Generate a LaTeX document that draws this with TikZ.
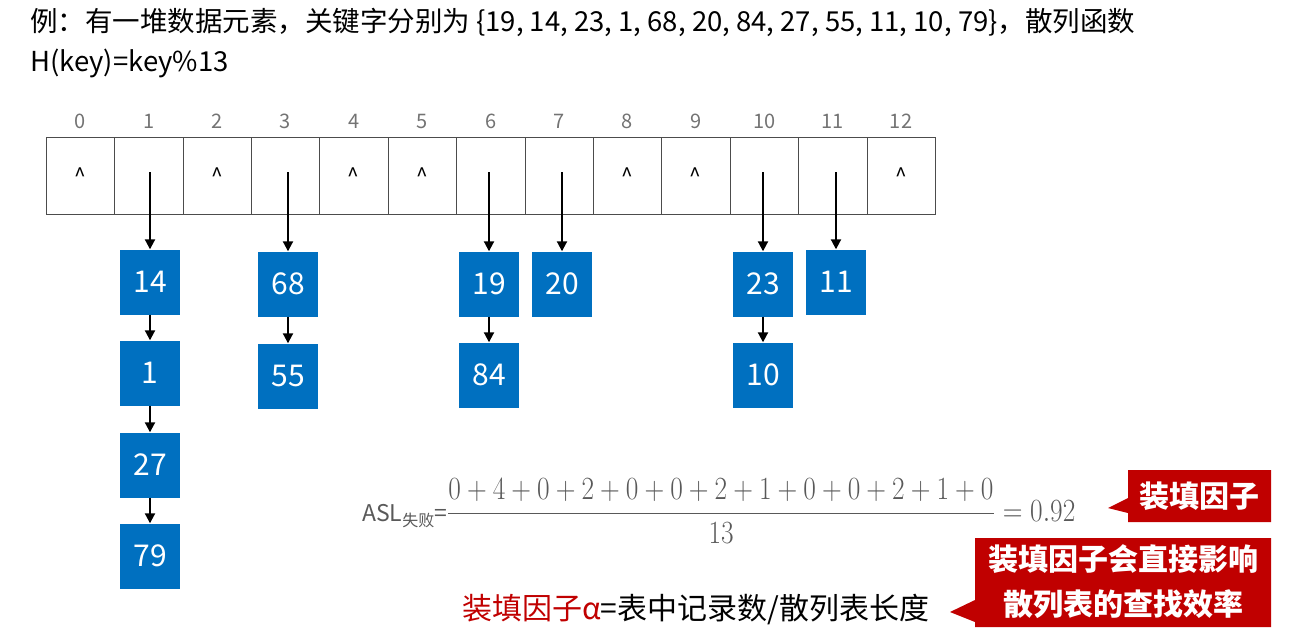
\documentclass[tikz,border=0pt]{standalone}
\usepackage{fontspec}
\setmainfont{Noto Sans CJK SC}
\usetikzlibrary{arrows.meta}
\definecolor{bx}{RGB}{0,112,192}
\definecolor{rd}{RGB}{192,0,0}
\begin{document}
\begin{tikzpicture}[x=1pt,y=-1pt,
  cell/.style={draw=black!70,line width=0.6pt,minimum width=68.4pt,minimum height=77pt,inner sep=0,font=\fontsize{21}{21}\selectfont},
  idx/.style={text=black!55,font=\fontsize{20}{20}\selectfont},
  key/.style={fill=bx,text=white,minimum width=60pt,minimum height=65pt,inner sep=0,font=\fontsize{30}{30}\selectfont},
  ar/.style={-{Triangle[length=10pt,width=10pt]},line width=2pt}]
\useasboundingbox (0,0) rectangle (1294,633);
\node[anchor=north west,align=left,font=\fontsize{27.5}{40}\selectfont,inner sep=0] (title) at (30,8) {例：有一堆数据元素，关键字分别为 \{19, 14, 23, 1, 68, 20, 84, 27, 55, 11, 10, 79\}，散列函数\\H(key)=key\%13};
\foreach \i/\t in {0/\^{},1/,2/\^{},3/,4/\^{},5/\^{},6/,7/,8/\^{},9/\^{},10/,11/,12/\^{}}{
  \node[cell] (c\i) at ({46+34.2+68.4*\i},175.5) {\t};
  \node[idx] (n\i) at ({46+34.2+68.4*\i},121) {\i};
}
\foreach \c/\x in {1/150,3/288,6/489,7/562,10/763,11/836}{\coordinate (s\c) at (\x,172);}
\node[key] (k14) at (150,282) {14};
\node[key] (k1) at (150,373) {1};
\node[key] (k27) at (150,465) {27};
\node[key] (k79) at (150,556) {79};
\node[key] (k68) at (288,284) {68};
\node[key] (k55) at (288,376) {55};
\node[key] (k19) at (489,284) {19};
\node[key] (k84) at (489,375) {84};
\node[key] (k20) at (562,284) {20};
\node[key] (k23) at (763,284) {23};
\node[key] (k10) at (763,375) {10};
\node[key] (k11) at (836,282) {11};
\draw[ar] (s1) -- (k14); \draw[ar] (k14) -- (k1); \draw[ar] (k1) -- (k27); \draw[ar] (k27) -- (k79);
\draw[ar] (s3) -- (k68); \draw[ar] (k68) -- (k55);
\draw[ar] (s6) -- (k19); \draw[ar] (k19) -- (k84);
\draw[ar] (s7) -- (k20);
\draw[ar] (s10) -- (k23); \draw[ar] (k23) -- (k10);
\draw[ar] (s11) -- (k11);
\node[anchor=west,text=black!65,inner sep=0,font=\fontsize{23}{23}\selectfont] (asl) at (362,511)
 {ASL{\fontsize{16}{16}\selectfont\raisebox{-5pt}{失败}}=\scalebox{1.1}[1.3]{$\displaystyle\frac{0+4+0+2+0+0+2+1+0+0+2+1+0}{13}=0.92$}};
\fill[rd] (1128,470) -- (1271,470) -- (1271,522) -- (1128,522) -- (1128,513) -- (1108,508) -- (1128,498) -- cycle;
\node[text=white,font=\fontsize{30}{30}\selectfont\bfseries] (lf) at (1199,496) {装填因子};
\fill[rd] (975,538) -- (1271,538) -- (1271,627) -- (975,627) -- (975,622) -- (950,612) -- (975,600) -- cycle;
\node[text=white,align=center,font=\fontsize{30}{45}\selectfont\bfseries] (lf2) at (1123,582) {装填因子会直接影响\\散列表的查找效率};
\node[anchor=west,inner sep=0,font=\fontsize{30}{30}\selectfont] (alpha) at (462,609) {\textcolor{rd}{装填因子α}=表中记录数/散列表长度};
\end{tikzpicture}
\end{document}
